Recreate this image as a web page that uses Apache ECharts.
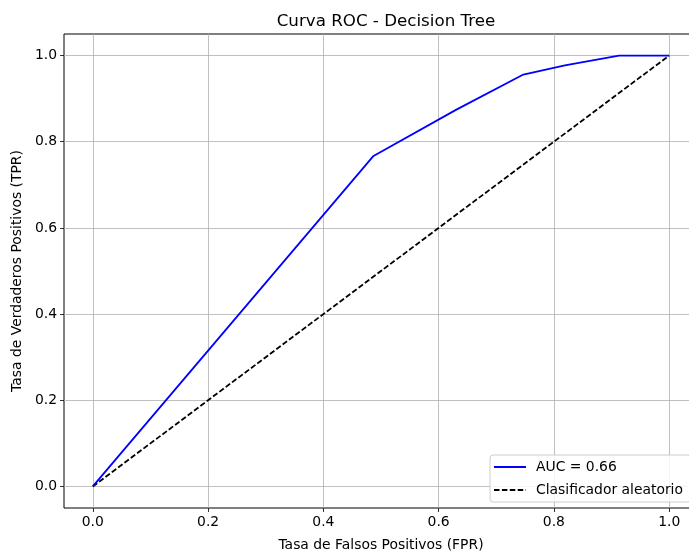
<!DOCTYPE html>
<html>
<head>
<meta charset="utf-8">
<script src="https://cdn.jsdelivr.net/npm/echarts@6/dist/echarts.min.js"></script>
<style>
  html, body { margin: 0; padding: 0; background: #fff; }
  #chart { width: 689px; height: 554px; }
</style>
</head>
<body>
<div id="chart"></div>
<script>
// ROC curve points of the decision tree (FPR, TPR)
const fpr = [0.0, 0.487, 0.630, 0.747, 0.819, 0.913, 1.0];
const tpr = [0.0, 0.767, 0.874, 0.956, 0.977, 1.0, 1.0];
// Random classifier reference diagonal
const randFpr = [0, 1];
const randTpr = [0, 1];
const aucValue = 0.66;
const tickValues = [0.0, 0.2, 0.4, 0.6, 0.8, 1.0];

const FONT = 'DejaVu Sans';

const chart = echarts.init(document.getElementById('chart'), null, { renderer: 'canvas' });

function axisCommon(name, gap) {
  return {
    type: 'value',
    min: -0.05,
    max: 1.05,
    name: name,
    nameLocation: 'middle',
    nameGap: gap,
    nameTextStyle: { fontFamily: FONT, fontSize: 13.9, color: '#000' },
    axisLine: { show: false, onZero: false },
    axisTick: {
      show: true, inside: false, length: 4,
      lineStyle: { color: '#000', width: 0.8 },
      customValues: tickValues
    },
    axisLabel: {
      fontFamily: FONT, fontSize: 13.9, color: '#000', margin: 7,
      customValues: tickValues,
      alignMinLabel: 'center',
      alignMaxLabel: 'center',
      formatter: v => v.toFixed(1)
    },
    splitLine: { show: true, lineStyle: { color: '#b0b0b0', width: 0.8 } }
  };
}

const yAxisOpt = axisCommon('Tasa de Verdaderos Positivos (TPR)', 40);
yAxisOpt.axisLabel.alignMinLabel = null;
yAxisOpt.axisLabel.alignMaxLabel = null;
yAxisOpt.axisLabel.verticalAlignMinLabel = 'middle';
yAxisOpt.axisLabel.verticalAlignMaxLabel = 'middle';

const option = {
  animation: false,
  backgroundColor: '#fff',
  title: {
    text: 'Curva ROC - Decision Tree',
    left: 381, top: 8, textAlign: 'center',
    textStyle: { fontFamily: FONT, fontSize: 16.7, fontWeight: 'normal', color: '#000' }
  },
  grid: {
    left: 64, right: -9, top: 34, bottom: 46,
    outerBoundsMode: 'none',
    containLabel: false,
    show: true, borderColor: '#000', borderWidth: 1, backgroundColor: 'transparent'
  },
  xAxis: axisCommon('Tasa de Falsos Positivos (FPR)', 30),
  yAxis: yAxisOpt,
  legend: {
    left: 490, top: 455,
    orient: 'vertical',
    itemWidth: 32, itemHeight: 12, itemGap: 9,
    padding: [5, 8, 5, 3],
    backgroundColor: 'rgba(255,255,255,0.8)',
    borderColor: '#cccccc', borderWidth: 1, borderRadius: 3,
    itemStyle: { opacity: 0 },
    textStyle: { fontFamily: FONT, fontSize: 13.9, color: '#000', padding: [0, 0, 0, 5] },
    data: ['AUC = ' + aucValue.toFixed(2), 'Clasificador aleatorio']
  },
  series: [
    {
      name: 'AUC = ' + aucValue.toFixed(2),
      type: 'line',
      data: fpr.map((x, i) => [x, tpr[i]]),
      symbol: 'none',
      lineStyle: { color: '#0000ff', width: 1.8 },
      itemStyle: { color: '#0000ff' },
      z: 3
    },
    {
      name: 'Clasificador aleatorio',
      type: 'line',
      data: randFpr.map((x, i) => [x, randTpr[i]]),
      symbol: 'none',
      lineStyle: { color: '#000', width: 1.8, type: [5.5, 2.4] },
      itemStyle: { color: '#000' },
      z: 2
    }
  ]
};

chart.setOption(option);
</script>
</body>
</html>
